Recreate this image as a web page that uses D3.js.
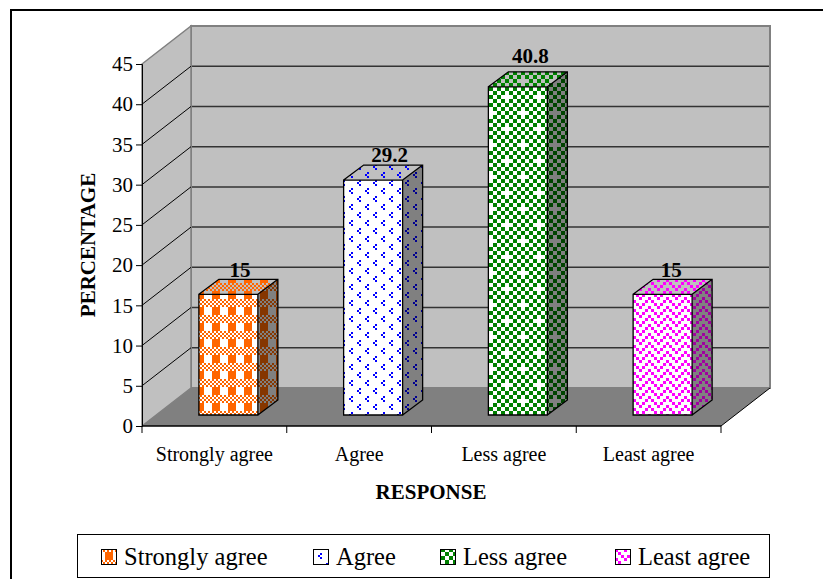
<!DOCTYPE html>
<html lang="en">

<head>
    <meta charset="utf-8">
    <script src="https://d3js.org/d3.v7.min.js"></script>
    <style>
        html, body { margin: 0; padding: 0; background: #fff; overflow: hidden; }
        svg { display: block; font-family: "Liberation Serif", serif; }
    </style>
</head>

<body>
    <script>
        const categories = ["Strongly agree", "Agree", "Less agree", "Least agree"];
        const values = [15, 29.2, 40.8, 15];
        const yTicks = [0, 5, 10, 15, 20, 25, 30, 35, 40, 45];

        const width = 823;
        const height = 579;

        // front plane of the chart and the 3d offset of the back wall
        const x = d3.scaleBand().domain(categories).range([142, 721]);
        const y = d3.scaleLinear().domain([0, 45]).range([426, 64]);
        const wallDx = 49;
        const wallDy = -38;

        // bars stand a bit behind the front plane
        const barShiftX = 14;
        const barShiftY = -11;
        const barW = 59;
        const barDx = 20;
        const barDy = -15;

        const svg = d3.select("body").append("svg")
            .attr("width", width)
            .attr("height", height);

        const defs = svg.append("defs");

        // square pattern tile, offset lines it up with the original bars
        function tile(id, bg, fg, look) {
            const p = defs.append("pattern")
                .attr("id", id)
                .attr("patternUnits", "userSpaceOnUse")
                .attr("width", look.size)
                .attr("height", look.size)
                .attr("patternTransform", "translate(" + look.offset + ")");
            p.append("rect").attr("width", look.size).attr("height", look.size).attr("fill", bg);
            look.draw((px, py, w, h) => {
                p.append("rect")
                    .attr("x", px).attr("y", py)
                    .attr("width", w).attr("height", h)
                    .attr("fill", fg)
                    .attr("shape-rendering", "crispEdges");
            });
        }

        function plaid(dot) {
            dot(8, 8, 8, 8);
            for (let i = 0; i < 8; i++) {
                for (let j = 0; j < 4; j++) {
                    if ((i + j) % 2 === 0) dot(i * 2, j * 2, 2, 2);
                }
            }
        }

        function sparse(dot) {
            [[0, 0], [8, 8]].forEach(o => {
                dot(o[0] + 2, o[1], 2, 2);
                dot(o[0], o[1] + 2, 2, 2);
                dot(o[0] + 2, o[1] + 4, 2, 2);
            });
        }

        function checker(dot) {
            for (let i = 0; i < 8; i++) {
                for (let j = 0; j < 8; j++) {
                    const gap = (i === 0 && j === 0) || (i === 4 && j === 4);
                    if ((i + j) % 2 === 0 && !gap) dot(i * 4, j * 4, 4, 4);
                }
            }
        }

        function zigzag(dot) {
            const zy = [0, 3, 6, 9, 6, 3];
            zy.forEach((v, i) => {
                dot(i * 3, v, 3, 3);
                dot(i * 3, (v + 9) % 18, 3, 3);
            });
        }

        const looks = [
            { draw: plaid, size: 16, offset: [12, 11], front: "#ff6600", side: "#853600" },
            { draw: sparse, size: 16, offset: [13, 12], front: "#0000ff", side: "#000090" },
            { draw: checker, size: 32, offset: [25, 31], front: "#008000", side: "#004400" },
            { draw: zigzag, size: 18, offset: [0, 0], front: "#ff00ff", side: "#a000a0" }
        ];

        looks.forEach((l, i) => {
            tile("front" + i, "#ffffff", l.front, l);
            tile("top" + i, "#c0c0c0", l.front, l);
            tile("side" + i, "#808080", l.side, l);
        });

        // outer frame, only top and left are inside the picture
        svg.append("path")
            .attr("d", d3.line()([[11, height], [11, 10], [width, 10]]))
            .attr("fill", "none")
            .attr("stroke", "#000")
            .attr("stroke-width", 2);

        const x0 = x.range()[0];
        const x1 = x.range()[1];
        const y0 = y(0);
        const yTop = y(45);

        const poly = pts => d3.line()(pts) + "Z";

        // walls and floor
        svg.append("path")
            .attr("d", poly([[x0 + wallDx, yTop + wallDy], [x1 + wallDx, yTop + wallDy], [x1 + wallDx, y0 + wallDy], [x0 + wallDx, y0 + wallDy]]))
            .attr("fill", "#c0c0c0")
            .attr("stroke", "#808080")
            .attr("stroke-width", 2);

        svg.append("path")
            .attr("d", poly([[x0, yTop], [x0 + wallDx, yTop + wallDy], [x0 + wallDx, y0 + wallDy], [x0, y0]]))
            .attr("fill", "#c0c0c0")
            .attr("stroke", "#808080")
            .attr("stroke-width", 1.5);

        svg.append("path")
            .attr("d", poly([[x0, y0], [x1, y0], [x1 + wallDx, y0 + wallDy], [x0 + wallDx, y0 + wallDy]]))
            .attr("fill", "#808080");

        // gridlines on back wall and side wall
        const gridTicks = yTicks.slice(1, -1);
        svg.append("g").selectAll("line")
            .data(gridTicks)
            .join("line")
            .attr("x1", x0 + wallDx + 1)
            .attr("x2", x1 + wallDx - 1)
            .attr("y1", d => y(d) + wallDy)
            .attr("y2", d => y(d) + wallDy)
            .attr("stroke", "#333")
            .attr("stroke-width", 1.5);

        svg.append("g").selectAll("line")
            .data(gridTicks)
            .join("line")
            .attr("x1", x0)
            .attr("x2", x0 + wallDx)
            .attr("y1", d => y(d))
            .attr("y2", d => y(d) + wallDy)
            .attr("stroke", "#000");

        // floor front edges
        svg.append("path")
            .attr("d", d3.line()([[x1, y0], [x1 + wallDx, y0 + wallDy]]))
            .attr("stroke", "#000")
            .attr("fill", "none");

        // axes
        const yAxis = svg.append("g")
            .attr("transform", "translate(" + x0 + ",0)")
            .call(d3.axisLeft(y).tickValues(yTicks).tickSize(6).tickPadding(3));
        yAxis.select(".domain").attr("stroke", "#000");
        yAxis.selectAll("text")
            .style("font-family", "'Liberation Serif', serif")
            .style("font-size", "21px")
            .attr("fill", "#000");

        const xAxis = svg.append("g")
            .attr("transform", "translate(0," + y0 + ")")
            .call(d3.axisBottom(x).tickSize(0).tickPadding(21));
        xAxis.select(".domain").remove();
        xAxis.selectAll("text")
            .style("font-family", "'Liberation Serif', serif")
            .style("font-size", "20px")
            .attr("fill", "#000");

        svg.append("line")
            .attr("x1", x0).attr("x2", x1)
            .attr("y1", y0).attr("y2", y0)
            .attr("stroke", "#000")
            .attr("stroke-width", 1.5);

        // the x ticks sit between the categories
        svg.append("g").selectAll("line")
            .data(categories.concat(["end"]))
            .join("line")
            .attr("x1", (d, i) => x0 + i * x.step())
            .attr("x2", (d, i) => x0 + i * x.step())
            .attr("y1", y0)
            .attr("y2", y0 + 7)
            .attr("stroke", "#000");

        // bars
        const barLeft = c => x(c) + x.bandwidth() / 2 + barShiftX - barW / 2;
        const barTop = v => y(v) + barShiftY;
        const barBase = y(0) + barShiftY;

        const bars = svg.append("g").selectAll("g")
            .data(values)
            .join("g");

        bars.append("path")
            .attr("fill", (d, i) => "url(#side" + i + ")")
            .attr("d", (d, i) => {
                const r = barLeft(categories[i]) + barW;
                return poly([[r, barTop(d)], [r + barDx, barTop(d) + barDy], [r + barDx, barBase + barDy], [r, barBase]]);
            });

        bars.append("path")
            .attr("fill", (d, i) => "url(#top" + i + ")")
            .attr("d", (d, i) => {
                const l = barLeft(categories[i]);
                return poly([[l, barTop(d)], [l + barDx, barTop(d) + barDy], [l + barW + barDx, barTop(d) + barDy], [l + barW, barTop(d)]]);
            });

        bars.append("rect")
            .attr("x", (d, i) => barLeft(categories[i]))
            .attr("y", d => barTop(d))
            .attr("width", barW)
            .attr("height", d => barBase - barTop(d))
            .attr("fill", (d, i) => "url(#front" + i + ")");

        // outlines on top of the fills
        bars.append("path")
            .attr("fill", "none")
            .attr("stroke", "#000")
            .attr("stroke-width", 1.3)
            .attr("d", (d, i) => {
                const l = barLeft(categories[i]);
                const r = l + barW;
                const t = barTop(d);
                return poly([[l, t], [r, t], [r, barBase], [l, barBase]])
                    + d3.line()([[l, t], [l + barDx, t + barDy], [r + barDx, t + barDy], [r + barDx, barBase + barDy], [r, barBase]])
                    + d3.line()([[r, t], [r + barDx, t + barDy]]);
            });

        // value labels, each one sits a little differently in the original
        const labelDx = [11.5, 16.5, 12.5, 8.5];
        const labelDy = [-17, -18, -24, -17];

        svg.append("g").selectAll("text")
            .data(values)
            .join("text")
            .attr("x", (d, i) => barLeft(categories[i]) + barW / 2 + labelDx[i])
            .attr("y", (d, i) => barTop(d) + labelDy[i])
            .attr("text-anchor", "middle")
            .style("font-size", "21px")
            .style("font-weight", "bold")
            .text(d => d);

        // axis titles
        svg.append("text")
            .attr("transform", "translate(95,245) rotate(-90)")
            .attr("text-anchor", "middle")
            .style("font-size", "21px")
            .style("font-weight", "bold")
            .text("PERCENTAGE");

        svg.append("text")
            .attr("x", 431)
            .attr("y", 499)
            .attr("text-anchor", "middle")
            .style("font-size", "21px")
            .style("font-weight", "bold")
            .text("RESPONSE");

        // legend
        const legendX = [101, 313, 440, 615];

        svg.append("rect")
            .attr("x", 77.5).attr("y", 534.5)
            .attr("width", 692).attr("height", 43)
            .attr("fill", "#fff")
            .attr("stroke", "#000");

        const legend = svg.append("g").selectAll("g")
            .data(categories)
            .join("g")
            .attr("transform", (d, i) => "translate(" + legendX[i] + ",549)");

        legend.append("rect")
            .attr("x", 0.5).attr("y", 0.5)
            .attr("width", 15).attr("height", 15)
            .attr("fill", (d, i) => "url(#front" + i + ")")
            .attr("stroke", "#000");

        legend.append("text")
            .attr("x", 23)
            .attr("y", 16)
            .style("font-size", "24.5px")
            .text(d => d);
    </script>
</body>

</html>
